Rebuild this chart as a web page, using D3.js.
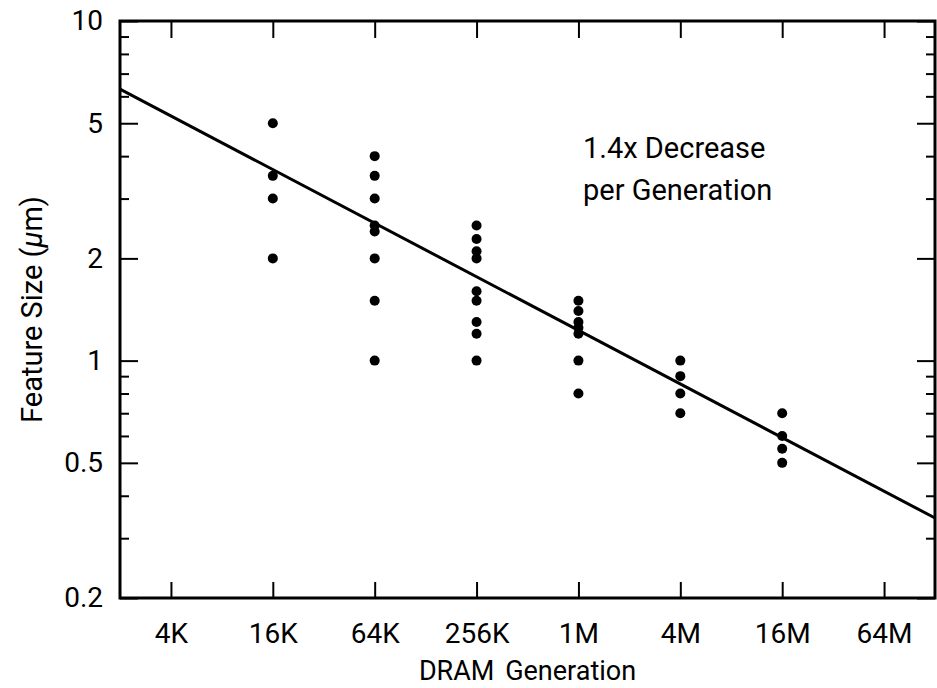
<!DOCTYPE html>
<html>
<head>
<meta charset="utf-8">
<script src="https://cdn.jsdelivr.net/npm/d3@7"></script>
<style>
  body { margin: 0; background: #fff; }
  text { font-family: Roboto, "Liberation Sans", sans-serif; fill: #000; }
</style>
</head>
<body>
<div id="chart"></div>
<script>
// DRAM generations (capacity in Kbit) and their labels
const genLabels = ["4K", "16K", "64K", "256K", "1M", "4M", "16M", "64M"];
const genKbit = [4, 16, 64, 256, 1024, 4096, 16384, 65536];

// y tick values (feature size, um)
const sizeTicks = [0.2, 0.5, 1, 2, 5, 10];
const sizeMinor = [0.3, 0.4, 0.6, 0.7, 0.8, 0.9, 3, 4, 6, 7, 8, 9];

// observed feature sizes per generation
const pointGens = [16, 64, 256, 1024, 4096, 16384];
const pointSizes = [
    [5, 3.5, 3, 2],
    [4, 3.5, 3, 2.5, 2.4, 2, 1.5, 1],
    [2.5, 2.28, 2.1, 2, 1.6, 1.5, 1.3, 1.2, 1],
    [1.5, 1.4, 1.3, 1.25, 1.2, 1, 0.8],
    [1, 0.9, 0.8, 0.7],
    [0.7, 0.6, 0.55, 0.5]
];

// fitted trend, end points at the edges of the plot
const trendGen = [2, 131072];
const trendSize = [6.3, 0.344];

const W = 937, H = 688;
const margin = {top: 21, right: 2, bottom: 90, left: 120};
const width = W - margin.left - margin.right,
      height = H - margin.top - margin.bottom;

const svg = d3.select("#chart")
    .append("svg")
        .attr("width", W)
        .attr("height", H)
    .append("g")
        .attr("transform", `translate(${margin.left}, ${margin.top})`);

const x = d3.scaleLog().base(2)
    .domain([2, 131072])
    .range([0, width]);

const y = d3.scaleLog()
    .domain([0.2, 10])
    .range([height, 0]);

const fontSize = 28;

// bottom axis with labels
const xAxis = svg.append("g")
    .attr("transform", `translate(0, ${height})`)
    .call(d3.axisBottom(x)
        .tickValues(genKbit)
        .tickFormat((d, i) => genLabels[i])
        .tickSizeInner(-16)
        .tickSizeOuter(0)
        .tickPadding(25));

// top axis, ticks only
const xTop = svg.append("g")
    .call(d3.axisTop(x)
        .tickValues(genKbit)
        .tickFormat("")
        .tickSizeInner(-17)
        .tickSizeOuter(0));

// left axis
const yAxis = svg.append("g")
    .call(d3.axisLeft(y)
        .tickValues(sizeTicks)
        .tickFormat(d3.format("~g"))
        .tickSizeInner(-18)
        .tickSizeOuter(0)
        .tickPadding(17));

const yMinor = svg.append("g")
    .call(d3.axisLeft(y)
        .tickValues(sizeMinor)
        .tickFormat("")
        .tickSizeInner(-9)
        .tickSizeOuter(0));

// right axis mirrors the left one
const yRight = svg.append("g")
    .attr("transform", `translate(${width}, 0)`)
    .call(d3.axisRight(y)
        .tickValues(sizeTicks)
        .tickFormat("")
        .tickSizeInner(-18)
        .tickSizeOuter(0));

const yRightMinor = svg.append("g")
    .attr("transform", `translate(${width}, 0)`)
    .call(d3.axisRight(y)
        .tickValues(sizeMinor)
        .tickFormat("")
        .tickSizeInner(-9)
        .tickSizeOuter(0));

[xAxis, xTop, yAxis, yMinor, yRight, yRightMinor].forEach(g => {
    g.select(".domain").remove();
    g.selectAll(".tick line").attr("stroke", "#000").attr("stroke-width", 2);
    g.selectAll(".tick text")
        .style("font-family", "Roboto, 'Liberation Sans', sans-serif")
        .style("font-size", fontSize + "px")
        .attr("fill", "#000");
});

// frame
svg.append("rect")
    .attr("x", 0)
    .attr("y", 0)
    .attr("width", width)
    .attr("height", height)
    .attr("fill", "none")
    .attr("stroke", "#000")
    .attr("stroke-width", 3);

// trend line
const line = d3.line()
    .x(d => x(d[0]))
    .y(d => y(d[1]));

svg.append("path")
    .datum(d3.zip(trendGen, trendSize))
    .attr("d", line)
    .attr("fill", "none")
    .attr("stroke", "#000")
    .attr("stroke-width", 3);

// data points
const points = pointGens.flatMap((g, i) => pointSizes[i].map(s => ({gen: g, size: s})));

svg.append("g")
    .selectAll("circle")
    .data(points)
    .enter()
    .append("circle")
    .attr("cx", d => x(d.gen))
    .attr("cy", d => y(d.size))
    .attr("r", 5)
    .attr("fill", "#000");

// annotation
const note = svg.append("text")
    .attr("x", 583 - margin.left)
    .style("font-size", "29px");
note.append("tspan").attr("x", 583 - margin.left).attr("y", 158 - margin.top).text("1.4x Decrease");
note.append("tspan").attr("x", 583 - margin.left).attr("y", 200 - margin.top).text("per Generation");

// x axis label
svg.append("text")
    .attr("x", width / 2)
    .attr("y", 680 - margin.top)
    .style("text-anchor", "middle")
    .style("font-size", "27px")
    .style("word-spacing", "4px")
    .text("DRAM Generation");

// y axis label
const yLabel = svg.append("text")
    .attr("transform", `translate(${42 - margin.left}, ${height / 2}) rotate(-90)`)
    .style("text-anchor", "middle")
    .style("font-size", "29px");
yLabel.append("tspan").text("Feature Size (");
yLabel.append("tspan").style("font-style", "italic").text("μ");
yLabel.append("tspan").text("m)");
</script>
</body>
</html>
